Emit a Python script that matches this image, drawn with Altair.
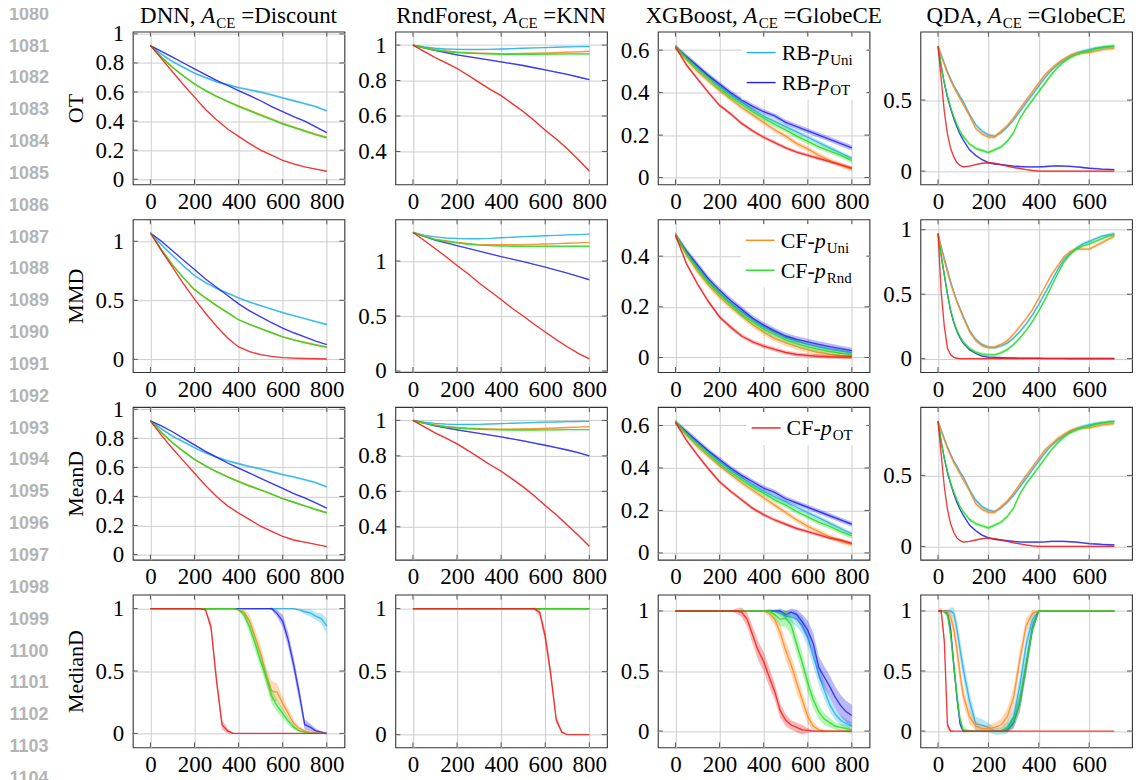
import altair as alt
import pandas as pd

# ---------------- layout / style ----------------
W, H = 212, 153
SPX, SPY = 51, 35
LN_W, SP0 = 40, 84
TL = 5
SERIF = "Liberation Serif"
FS_TICK, FS_TITLE, FS_SUB, FS_LEG = 23, 23, 15, 22
GRID_C, TICK_C, BOX_C = "#cdcdcd", "#555555", "#333333"
TITLE_Y, SUB_DY = -9, 5

# ---------------- data ----------------
X800 = list(range(0, 801, 50))
X800F = list(range(0, 801, 25))
XQDA = [0, 12.5, 25, 37.5, 50, 62.5, 75, 87.5] + list(range(100, 701, 25))

SERIES = ["rbu", "rbo", "cfu", "cfr", "cfo"]
COLORS = ["#22b0e6", "#2323ee", "#ff8a1e", "#22dd22", "#f21a1a"]
ROW_LABELS = ["OT", "MMD", "MeanD", "MedianD"]
LINE_NUMBERS = list(range(1080, 1105))

XT8 = [0, 200, 400, 600, 800]
XT7 = [0, 200, 400, 600]

# OT
ot_dnn_rbu = [0.92, 0.86, 0.81, 0.77, 0.73, 0.70, 0.67, 0.65, 0.63, 0.615, 0.60, 0.58, 0.56, 0.54, 0.52, 0.50, 0.47]
ot_dnn_rbo = [0.92, 0.88, 0.84, 0.80, 0.76, 0.72, 0.68, 0.645, 0.61, 0.575, 0.54, 0.50, 0.465, 0.43, 0.40, 0.36, 0.32]
ot_dnn_cfu = [0.92, 0.84, 0.77, 0.71, 0.655, 0.61, 0.57, 0.535, 0.505, 0.475, 0.445, 0.415, 0.385, 0.36, 0.335, 0.31, 0.29]
ot_dnn_cfr = [0.92, 0.84, 0.77, 0.71, 0.655, 0.61, 0.57, 0.535, 0.50, 0.47, 0.44, 0.41, 0.38, 0.355, 0.33, 0.305, 0.285]
ot_dnn_cfo = [0.92, 0.83, 0.74, 0.65, 0.565, 0.48, 0.41, 0.345, 0.295, 0.245, 0.20, 0.165, 0.13, 0.105, 0.085, 0.07, 0.055]

ot_rf_rbu = [1.0, 0.99, 0.982, 0.978, 0.976, 0.975, 0.975, 0.976, 0.978, 0.98, 0.982, 0.984, 0.986, 0.988, 0.99, 0.991, 0.992]
ot_rf_rbo = [1.0, 0.985, 0.97, 0.957, 0.945, 0.935, 0.925, 0.915, 0.905, 0.895, 0.885, 0.872, 0.86, 0.847, 0.835, 0.82, 0.805]
ot_rf_cfu = [1.0, 0.985, 0.975, 0.967, 0.96, 0.957, 0.955, 0.953, 0.952, 0.952, 0.953, 0.954, 0.955, 0.957, 0.96, 0.962, 0.965]
ot_rf_cfr = [1.0, 0.985, 0.972, 0.964, 0.958, 0.955, 0.952, 0.95, 0.948, 0.948, 0.948, 0.948, 0.949, 0.949, 0.95, 0.95, 0.95]
ot_rf_cfo = [1.0, 0.965, 0.93, 0.90, 0.868, 0.83, 0.79, 0.75, 0.715, 0.67, 0.625, 0.575, 0.52, 0.47, 0.415, 0.355, 0.29]

ot_xgb_rbu = [0.615, 0.565, 0.52, 0.475, 0.43, 0.39, 0.355, 0.32, 0.29, 0.265, 0.24, 0.215, 0.19, 0.165, 0.14, 0.115, 0.09]
ot_xgb_rbo = [0.615, 0.57, 0.525, 0.48, 0.44, 0.40, 0.365, 0.335, 0.31, 0.29, 0.26, 0.24, 0.22, 0.20, 0.18, 0.16, 0.14]
ot_xgb_cfu = [0.615, 0.555, 0.50, 0.455, 0.41, 0.37, 0.33, 0.295, 0.26, 0.225, 0.195, 0.16, 0.135, 0.105, 0.08, 0.06, 0.04]
ot_xgb_cfr = [0.615, 0.56, 0.51, 0.465, 0.42, 0.38, 0.345, 0.31, 0.28, 0.25, 0.225, 0.195, 0.17, 0.145, 0.125, 0.105, 0.08]
ot_xgb_cfo = [0.615, 0.53, 0.465, 0.40, 0.34, 0.30, 0.255, 0.22, 0.19, 0.165, 0.14, 0.12, 0.105, 0.09, 0.075, 0.06, 0.045]

ot_qda_rbu = [0.88, 0.82, 0.76, 0.70, 0.65, 0.60, 0.565, 0.525, 0.49, 0.40, 0.325, 0.28, 0.255, 0.245, 0.27, 0.31, 0.36,
              0.42, 0.48, 0.54, 0.60, 0.66, 0.71, 0.75, 0.78, 0.81, 0.83, 0.845, 0.855, 0.865, 0.87, 0.875, 0.88]
ot_qda_rbo = [0.88, 0.74, 0.62, 0.52, 0.44, 0.37, 0.31, 0.26, 0.22, 0.15, 0.11, 0.08, 0.06, 0.05, 0.045, 0.04, 0.035,
              0.032, 0.03, 0.03, 0.03, 0.032, 0.035, 0.036, 0.035, 0.033, 0.03, 0.025, 0.02, 0.017, 0.014, 0.012, 0.01]
ot_qda_cfu = [0.88, 0.81, 0.75, 0.69, 0.64, 0.59, 0.55, 0.51, 0.47, 0.39, 0.30, 0.26, 0.24, 0.24, 0.28, 0.32, 0.375,
              0.44, 0.50, 0.56, 0.62, 0.68, 0.72, 0.76, 0.79, 0.815, 0.83, 0.835, 0.835, 0.845, 0.855, 0.86, 0.865]
ot_qda_cfr = [0.88, 0.74, 0.62, 0.53, 0.45, 0.385, 0.33, 0.28, 0.245, 0.19, 0.16, 0.145, 0.13, 0.15, 0.17, 0.21, 0.27,
              0.37, 0.44, 0.50, 0.56, 0.62, 0.68, 0.73, 0.77, 0.80, 0.82, 0.835, 0.845, 0.86, 0.87, 0.875, 0.88]
ot_qda_cfo = [0.88, 0.65, 0.42, 0.26, 0.16, 0.10, 0.06, 0.04, 0.03, 0.035, 0.045, 0.055, 0.058, 0.055, 0.045, 0.035,
              0.025, 0.018, 0.01, 0.004, 0.0] + [0.0] * 12

# MMD
mmd_dnn_rbu = [1.07, 0.97, 0.88, 0.79, 0.71, 0.65, 0.60, 0.56, 0.52, 0.485, 0.455, 0.425, 0.395, 0.37, 0.345, 0.32, 0.295]
mmd_dnn_rbo = [1.07, 1.0, 0.92, 0.84, 0.76, 0.68, 0.61, 0.54, 0.47, 0.41, 0.36, 0.31, 0.265, 0.225, 0.19, 0.155, 0.125]
mmd_dnn_cfu = [1.07, 0.93, 0.80, 0.69, 0.59, 0.52, 0.455, 0.395, 0.335, 0.295, 0.26, 0.225, 0.19, 0.165, 0.145, 0.125, 0.105]
mmd_dnn_cfr = [1.07, 0.93, 0.80, 0.69, 0.59, 0.52, 0.455, 0.395, 0.335, 0.295, 0.26, 0.225, 0.19, 0.165, 0.14, 0.12, 0.10]
mmd_dnn_cfo = [1.07, 0.92, 0.78, 0.64, 0.51, 0.39, 0.28, 0.18, 0.105, 0.065, 0.04, 0.025, 0.015, 0.01, 0.007, 0.005, 0.003]

mmd_rf_rbu = [1.26, 1.235, 1.22, 1.21, 1.205, 1.203, 1.203, 1.206, 1.212, 1.217, 1.222, 1.226, 1.23, 1.234, 1.238, 1.241, 1.245]
mmd_rf_rbo = [1.26, 1.225, 1.19, 1.165, 1.14, 1.115, 1.09, 1.065, 1.04, 1.018, 0.995, 0.97, 0.945, 0.918, 0.89, 0.86, 0.83]
mmd_rf_cfu = [1.26, 1.23, 1.20, 1.185, 1.17, 1.16, 1.15, 1.148, 1.148, 1.148, 1.15, 1.152, 1.155, 1.158, 1.162, 1.166, 1.17]
mmd_rf_cfr = [1.26, 1.225, 1.195, 1.178, 1.165, 1.153, 1.145, 1.14, 1.137, 1.135, 1.135, 1.135, 1.135, 1.135, 1.135, 1.135, 1.135]
mmd_rf_cfo = [1.26, 1.19, 1.115, 1.04, 0.96, 0.885, 0.80, 0.725, 0.65, 0.57, 0.50, 0.425, 0.355, 0.285, 0.22, 0.16, 0.11]

mmd_xgb_rbu = [0.483, 0.415, 0.355, 0.30, 0.255, 0.215, 0.18, 0.15, 0.122, 0.10, 0.08, 0.065, 0.052, 0.042, 0.033, 0.026, 0.02]
mmd_xgb_rbo = [0.483, 0.42, 0.365, 0.31, 0.265, 0.225, 0.19, 0.155, 0.128, 0.105, 0.085, 0.072, 0.062, 0.052, 0.043, 0.035, 0.027]
mmd_xgb_cfu = [0.483, 0.405, 0.34, 0.285, 0.24, 0.20, 0.165, 0.13, 0.10, 0.075, 0.058, 0.043, 0.03, 0.02, 0.013, 0.008, 0.005]
mmd_xgb_cfr = [0.483, 0.41, 0.35, 0.295, 0.25, 0.21, 0.17, 0.14, 0.112, 0.09, 0.07, 0.055, 0.042, 0.032, 0.024, 0.017, 0.012]
mmd_xgb_cfo = [0.483, 0.37, 0.29, 0.22, 0.16, 0.12, 0.085, 0.062, 0.045, 0.032, 0.02, 0.012, 0.008, 0.005, 0.003, 0.002, 0.002]

mmd_qda_rbu = [0.97, 0.87, 0.78, 0.69, 0.60, 0.52, 0.45, 0.39, 0.33, 0.22, 0.15, 0.11, 0.09, 0.085, 0.10, 0.12, 0.16,
               0.21, 0.27, 0.34, 0.42, 0.51, 0.60, 0.69, 0.77, 0.82, 0.86, 0.89, 0.91, 0.93, 0.95, 0.96, 0.97]
mmd_qda_rbo = [0.97, 0.80, 0.65, 0.50, 0.37, 0.28, 0.21, 0.16, 0.12, 0.07, 0.04, 0.02, 0.012, 0.01, 0.008, 0.006, 0.005,
               0.004, 0.003, 0.003, 0.003, 0.002, 0.002, 0.002, 0.002, 0.001, 0.001, 0.001, 0.001, 0.001, 0.001, 0.001, 0.001]
mmd_qda_cfu = [0.97, 0.86, 0.76, 0.67, 0.58, 0.51, 0.44, 0.38, 0.32, 0.21, 0.14, 0.10, 0.085, 0.09, 0.11, 0.14, 0.19,
               0.25, 0.31, 0.38, 0.47, 0.56, 0.65, 0.72, 0.79, 0.83, 0.85, 0.85, 0.85, 0.875, 0.90, 0.925, 0.95]
mmd_qda_cfr = [0.97, 0.80, 0.65, 0.50, 0.38, 0.29, 0.22, 0.17, 0.13, 0.08, 0.05, 0.035, 0.03, 0.03, 0.045, 0.07, 0.11,
               0.16, 0.22, 0.29, 0.37, 0.46, 0.56, 0.66, 0.75, 0.81, 0.85, 0.875, 0.89, 0.91, 0.93, 0.95, 0.96]
mmd_qda_cfo = [0.97, 0.52, 0.25, 0.08, 0.03, 0.01, 0.003, 0.0, 0.0] + [0.0] * 24

# MeanD
mean_dnn_rbu = [0.92, 0.865, 0.815, 0.775, 0.735, 0.70, 0.67, 0.645, 0.625, 0.605, 0.59, 0.57, 0.55, 0.535, 0.515, 0.495, 0.465]
mean_dnn_rbo = [0.92, 0.885, 0.845, 0.80, 0.755, 0.71, 0.67, 0.63, 0.595, 0.56, 0.525, 0.49, 0.455, 0.42, 0.39, 0.355, 0.32]
mean_dnn_cfu = [0.92, 0.84, 0.77, 0.71, 0.655, 0.61, 0.57, 0.535, 0.505, 0.475, 0.445, 0.415, 0.385, 0.36, 0.335, 0.31, 0.29]
mean_dnn_cfr = [0.92, 0.84, 0.77, 0.71, 0.655, 0.61, 0.57, 0.535, 0.50, 0.47, 0.445, 0.415, 0.385, 0.36, 0.335, 0.31, 0.285]
mean_dnn_cfo = [0.92, 0.82, 0.73, 0.645, 0.56, 0.475, 0.40, 0.335, 0.285, 0.24, 0.195, 0.16, 0.125, 0.10, 0.085, 0.07, 0.055]

mean_rf_rbu = [1.0, 0.99, 0.983, 0.979, 0.977, 0.977, 0.978, 0.98, 0.982, 0.984, 0.986, 0.988, 0.99, 0.991, 0.993, 0.994, 0.995]
mean_rf_rbo = [1.0, 0.985, 0.97, 0.958, 0.947, 0.937, 0.927, 0.917, 0.907, 0.896, 0.885, 0.872, 0.86, 0.847, 0.833, 0.818, 0.80]
mean_rf_cfu = [1.0, 0.985, 0.975, 0.966, 0.96, 0.956, 0.954, 0.952, 0.951, 0.951, 0.952, 0.953, 0.955, 0.957, 0.96, 0.962, 0.965]
mean_rf_cfr = [1.0, 0.985, 0.972, 0.963, 0.957, 0.953, 0.95, 0.948, 0.947, 0.946, 0.946, 0.946, 0.947, 0.947, 0.948, 0.948, 0.948]
mean_rf_cfo = [1.0, 0.965, 0.93, 0.90, 0.868, 0.83, 0.79, 0.75, 0.713, 0.67, 0.625, 0.575, 0.52, 0.468, 0.41, 0.352, 0.29]

mean_xgb_rbu = [0.615, 0.565, 0.52, 0.475, 0.43, 0.39, 0.355, 0.32, 0.29, 0.265, 0.24, 0.215, 0.19, 0.165, 0.14, 0.115, 0.09]
mean_xgb_rbo = [0.615, 0.57, 0.525, 0.48, 0.44, 0.40, 0.365, 0.335, 0.305, 0.285, 0.255, 0.235, 0.215, 0.195, 0.175, 0.155, 0.135]
mean_xgb_cfu = [0.615, 0.555, 0.50, 0.455, 0.41, 0.37, 0.33, 0.295, 0.26, 0.225, 0.19, 0.155, 0.125, 0.10, 0.075, 0.055, 0.04]
mean_xgb_cfr = [0.615, 0.56, 0.51, 0.465, 0.42, 0.38, 0.345, 0.31, 0.28, 0.25, 0.225, 0.195, 0.17, 0.145, 0.125, 0.10, 0.08]
mean_xgb_cfo = [0.615, 0.53, 0.46, 0.395, 0.335, 0.29, 0.25, 0.21, 0.18, 0.155, 0.135, 0.115, 0.10, 0.085, 0.07, 0.06, 0.045]

mean_qda_rbu = [0.88, 0.82, 0.76, 0.70, 0.65, 0.60, 0.565, 0.525, 0.49, 0.40, 0.325, 0.28, 0.255, 0.245, 0.27, 0.31, 0.36,
                0.42, 0.48, 0.54, 0.60, 0.66, 0.71, 0.75, 0.78, 0.81, 0.83, 0.845, 0.855, 0.865, 0.87, 0.875, 0.88]
mean_qda_rbo = [0.88, 0.74, 0.62, 0.52, 0.44, 0.37, 0.31, 0.26, 0.22, 0.15, 0.11, 0.08, 0.06, 0.05, 0.045, 0.04, 0.035,
                0.032, 0.03, 0.03, 0.03, 0.032, 0.035, 0.036, 0.035, 0.033, 0.03, 0.025, 0.02, 0.017, 0.014, 0.012, 0.01]
mean_qda_cfu = [0.88, 0.81, 0.75, 0.69, 0.64, 0.59, 0.55, 0.51, 0.47, 0.39, 0.30, 0.26, 0.24, 0.24, 0.28, 0.32, 0.375,
                0.44, 0.50, 0.56, 0.62, 0.68, 0.72, 0.76, 0.79, 0.815, 0.83, 0.835, 0.835, 0.845, 0.855, 0.86, 0.865]
mean_qda_cfr = [0.88, 0.74, 0.62, 0.53, 0.45, 0.385, 0.33, 0.28, 0.245, 0.19, 0.16, 0.145, 0.13, 0.15, 0.17, 0.21, 0.27,
                0.37, 0.44, 0.50, 0.56, 0.62, 0.68, 0.73, 0.77, 0.80, 0.82, 0.835, 0.845, 0.86, 0.87, 0.875, 0.88]
mean_qda_cfo = [0.88, 0.65, 0.42, 0.26, 0.16, 0.10, 0.06, 0.04, 0.03, 0.035, 0.045, 0.055, 0.058, 0.055, 0.045, 0.035,
                0.025, 0.018, 0.01, 0.004, 0.0] + [0.0] * 12

# MedianD
med_dnn_rbu = [1] * 27 + [0.99, 0.975, 0.965, 0.94, 0.92, 0.86]
med_dnn_rbo = [1] * 23 + [0.96, 0.90, 0.75, 0.55, 0.32, 0.07, 0.05, 0.02, 0.01, 0.0]
med_dnn_cfu = [1] * 16 + [0.99, 0.97, 0.90, 0.77, 0.64, 0.47, 0.34, 0.33, 0.24, 0.16, 0.08, 0.04, 0.02, 0.01, 0, 0, 0]
med_dnn_cfr = [1] * 16 + [0.99, 0.95, 0.85, 0.72, 0.58, 0.45, 0.30, 0.22, 0.16, 0.10, 0.05, 0.02, 0.01, 0, 0, 0, 0]
med_dnn_cfo = [1] * 10 + [0.99, 0.85, 0.42, 0.07, 0.02] + [0] * 18

med_rf_rbu = [1] * 33
med_rf_rbo = [1] * 33
med_rf_cfu = [1] * 33
med_rf_cfr = [1] * 33
med_rf_cfo = [1] * 23 + [0.97, 0.78, 0.48, 0.12, 0.02, 0, 0, 0, 0, 0]

med_xgb_rbu = [1] * 19 + [0.98, 0.96, 0.95, 0.93, 0.88, 0.78, 0.62, 0.47, 0.34, 0.22, 0.14, 0.09, 0.06, 0.04]
med_xgb_rbo = [1] * 19 + [1.0, 0.97, 0.99, 0.97, 0.91, 0.84, 0.73, 0.53, 0.45, 0.37, 0.28, 0.21, 0.16, 0.13]
med_xgb_cfu = [1] * 17 + [0.98, 0.93, 0.82, 0.67, 0.55, 0.40, 0.26, 0.12, 0.04, 0.01, 0, 0, 0, 0, 0, 0]
med_xgb_cfr = [1] * 18 + [0.97, 0.93, 0.94, 0.88, 0.72, 0.57, 0.40, 0.26, 0.16, 0.10, 0.07, 0.04, 0.03, 0.02, 0.01]
med_xgb_cfo = [1] * 11 + [1.0, 0.99, 0.93, 0.80, 0.67, 0.58, 0.45, 0.33, 0.17, 0.09, 0.05, 0.03, 0.01, 0.005,
                          0, 0, 0, 0, 0, 0, 0, 0]

med_qda_rbu = [1, 1, 1, 1, 1, 0.98, 0.85, 0.68, 0.52, 0.25, 0.06, 0.05, 0.03, 0.0, 0.0,
               0.03, 0.12, 0.38, 0.72, 0.93, 1.0] + [1] * 12
med_qda_rbo = [1, 1, 1, 0.98, 0.85, 0.55, 0.28, 0.06, 0.0, 0, 0, 0, 0, 0, 0,
               0.01, 0.07, 0.24, 0.55, 0.86, 1.0] + [1] * 12
med_qda_cfu = [1, 1, 1, 0.99, 0.95, 0.85, 0.68, 0.47, 0.30, 0.12, 0.04, 0.02, 0.02, 0.03, 0.05,
               0.12, 0.28, 0.60, 0.88, 0.98, 1.0] + [1] * 12
med_qda_cfr = [1, 1, 0.99, 0.97, 0.80, 0.55, 0.30, 0.10, 0.01, 0, 0, 0, 0, 0, 0,
               0.02, 0.08, 0.25, 0.55, 0.85, 1.0] + [1] * 12
med_qda_cfo = [1, 1, 0.75, 0.05] + [0] * 29

# band half-widths (std), rows 1-3: one value per series (cyan, blue, orange, green, red)
SD_DNN = [0.008, 0.004, 0.005, 0.005, 0.003]
SD_RF = [0.003, 0.004, 0.004, 0.004, 0.004]
SD_XGB = [0.01, 0.012, 0.012, 0.012, 0.008]
SD_QDA = [0.012, 0.006, 0.012, 0.012, 0.004]

# row 4 bands
sd_med_dnn_rbu = [0] * 26 + [0.005, 0.01, 0.02, 0.03, 0.03, 0.04, 0.06]
sd_med_dnn_rbo = [0] * 22 + [0.01, 0.03, 0.05, 0.06, 0.06, 0.06, 0.04, 0.03, 0.02, 0.01, 0.01]
sd_med_dnn_cfu = [0] * 16 + [0.01, 0.03, 0.05, 0.06, 0.07, 0.07, 0.08, 0.07, 0.05, 0.04, 0.03, 0.02, 0.01, 0, 0, 0, 0]
sd_med_dnn_cfr = [0] * 16 + [0.01, 0.03, 0.05, 0.06, 0.06, 0.06, 0.06, 0.05, 0.04, 0.03, 0.02, 0.01, 0.005, 0, 0, 0, 0]
sd_med_dnn_cfo = [0] * 10 + [0.01, 0.04, 0.05, 0.04, 0.02, 0.005] + [0] * 17

sd_med_rf_cfo = [0] * 22 + [0.01, 0.03, 0.05, 0.05, 0.03, 0.01, 0, 0, 0, 0, 0]

sd_med_xgb_rbu = [0] * 18 + [0.01, 0.02, 0.04, 0.05, 0.06, 0.07, 0.08, 0.08, 0.08, 0.07, 0.06, 0.05, 0.04, 0.04, 0.03]
sd_med_xgb_rbo = [0] * 18 + [0.01, 0.02, 0.03, 0.03, 0.04, 0.06, 0.08, 0.09, 0.09, 0.09, 0.09, 0.09, 0.09, 0.09, 0.09]
sd_med_xgb_cfu = [0] * 16 + [0.01, 0.03, 0.05, 0.07, 0.08, 0.08, 0.08, 0.07, 0.06, 0.04, 0.02, 0.01, 0.005, 0, 0, 0, 0]
sd_med_xgb_cfr = [0] * 17 + [0.02, 0.04, 0.06, 0.07, 0.08, 0.08, 0.08, 0.08, 0.07, 0.06, 0.05, 0.04, 0.03, 0.03, 0.03, 0.035]
sd_med_xgb_cfo = [0] * 11 + [0.02, 0.04, 0.06, 0.07, 0.08, 0.08, 0.08, 0.07, 0.06, 0.05, 0.04, 0.04, 0.04, 0.02, 0.005] + [0] * 7

sd_med_qda_rbu = [0, 0, 0, 0.01, 0.03, 0.05, 0.08, 0.09, 0.09, 0.08, 0.06, 0.05, 0.04, 0.03, 0.03,
                  0.05, 0.07, 0.09, 0.08, 0.05, 0.01] + [0] * 12
sd_med_qda_rbo = [0, 0, 0.01, 0.03, 0.06, 0.06, 0.05, 0.03, 0.01, 0, 0, 0, 0, 0, 0,
                  0.02, 0.05, 0.08, 0.08, 0.05, 0.01] + [0] * 12
sd_med_qda_cfu = [0, 0, 0.01, 0.02, 0.05, 0.07, 0.08, 0.08, 0.07, 0.06, 0.04, 0.03, 0.03, 0.04, 0.05,
                  0.07, 0.08, 0.08, 0.06, 0.03, 0.01] + [0] * 12
sd_med_qda_cfr = [0, 0, 0.01, 0.03, 0.06, 0.07, 0.06, 0.04, 0.02, 0.01, 0, 0, 0, 0, 0.01,
                  0.03, 0.05, 0.08, 0.08, 0.05, 0.01] + [0] * 12
sd_med_qda_cfo = [0, 0.03, 0.05, 0.04, 0.01] + [0] * 28

TITLES = [
    [("DNN, ", "n"), ("A", "i"), ("CE", "s"), (" =Discount", "n")],
    [("RndForest, ", "n"), ("A", "i"), ("CE", "s"), (" =KNN", "n")],
    [("XGBoost, ", "n"), ("A", "i"), ("CE", "s"), (" =GlobeCE", "n")],
    [("QDA, ", "n"), ("A", "i"), ("CE", "s"), (" =GlobeCE", "n")],
]
LEGENDS = {
    (0, 2): ([("RB-", "Uni", 0), ("RB-", "OT", 1)], 89),
    (1, 2): ([("CF-", "Uni", 2), ("CF-", "Rnd", 3)], 88),
    (2, 2): ([("CF-", "OT", 4)], 94),
}

PANELS = [
    [(X800, [ot_dnn_rbu, ot_dnn_rbo, ot_dnn_cfu, ot_dnn_cfr, ot_dnn_cfo], SD_DNN, XT8, [0, 0.2, 0.4, 0.6, 0.8, 1]),
     (X800, [ot_rf_rbu, ot_rf_rbo, ot_rf_cfu, ot_rf_cfr, ot_rf_cfo], SD_RF, XT8, [0.4, 0.6, 0.8, 1]),
     (X800, [ot_xgb_rbu, ot_xgb_rbo, ot_xgb_cfu, ot_xgb_cfr, ot_xgb_cfo], SD_XGB, XT8, [0, 0.2, 0.4, 0.6]),
     (XQDA, [ot_qda_rbu, ot_qda_rbo, ot_qda_cfu, ot_qda_cfr, ot_qda_cfo], SD_QDA, XT7, [0, 0.5])],
    [(X800, [mmd_dnn_rbu, mmd_dnn_rbo, mmd_dnn_cfu, mmd_dnn_cfr, mmd_dnn_cfo], SD_DNN, XT8, [0, 0.5, 1]),
     (X800, [mmd_rf_rbu, mmd_rf_rbo, mmd_rf_cfu, mmd_rf_cfr, mmd_rf_cfo], SD_RF, XT8, [0, 0.5, 1]),
     (X800, [mmd_xgb_rbu, mmd_xgb_rbo, mmd_xgb_cfu, mmd_xgb_cfr, mmd_xgb_cfo], SD_XGB, XT8, [0, 0.2, 0.4]),
     (XQDA, [mmd_qda_rbu, mmd_qda_rbo, mmd_qda_cfu, mmd_qda_cfr, mmd_qda_cfo], SD_QDA, XT7, [0, 0.5, 1])],
    [(X800, [mean_dnn_rbu, mean_dnn_rbo, mean_dnn_cfu, mean_dnn_cfr, mean_dnn_cfo], SD_DNN, XT8, [0, 0.2, 0.4, 0.6, 0.8, 1]),
     (X800, [mean_rf_rbu, mean_rf_rbo, mean_rf_cfu, mean_rf_cfr, mean_rf_cfo], SD_RF, XT8, [0.4, 0.6, 0.8, 1]),
     (X800, [mean_xgb_rbu, mean_xgb_rbo, mean_xgb_cfu, mean_xgb_cfr, mean_xgb_cfo], SD_XGB, XT8, [0, 0.2, 0.4, 0.6]),
     (XQDA, [mean_qda_rbu, mean_qda_rbo, mean_qda_cfu, mean_qda_cfr, mean_qda_cfo], SD_QDA, XT7, [0, 0.5])],
    [(X800F, [med_dnn_rbu, med_dnn_rbo, med_dnn_cfu, med_dnn_cfr, med_dnn_cfo],
      [sd_med_dnn_rbu, sd_med_dnn_rbo, sd_med_dnn_cfu, sd_med_dnn_cfr, sd_med_dnn_cfo], XT8, [0, 0.5, 1]),
     (X800F, [med_rf_rbu, med_rf_rbo, med_rf_cfu, med_rf_cfr, med_rf_cfo], [0, 0, 0, 0, sd_med_rf_cfo], XT8, [0, 0.5, 1]),
     (X800F, [med_xgb_rbu, med_xgb_rbo, med_xgb_cfu, med_xgb_cfr, med_xgb_cfo],
      [sd_med_xgb_rbu, sd_med_xgb_rbo, sd_med_xgb_cfu, sd_med_xgb_cfr, sd_med_xgb_cfo], XT8, [0, 0.5, 1]),
     (XQDA, [med_qda_rbu, med_qda_rbo, med_qda_cfu, med_qda_cfr, med_qda_cfo],
      [sd_med_qda_rbu, sd_med_qda_rbo, sd_med_qda_cfu, sd_med_qda_cfr, sd_med_qda_cfo], XT7, [0, 0.5, 1])],
]

# ---------------- helpers ----------------
TIMES = {" ": 250, ",": 250, "-": 333, "=": 564, "A": 722, "B": 667, "C": 667, "D": 722, "E": 611, "F": 556,
         "G": 722, "K": 722, "N": 722, "O": 722, "Q": 722, "R": 667, "T": 611, "U": 722, "X": 722, "a": 444,
         "b": 500, "c": 444, "d": 500, "e": 444, "i": 278, "l": 278, "n": 500, "o": 500, "r": 333, "s": 389,
         "t": 278, "u": 500, "p": 500}
TIMES_I = {"A": 611, "p": 500}


def tw(s, size, italic=False):
    tab = TIMES_I if italic else TIMES
    return sum(tab.get(ch, TIMES.get(ch, 500)) for ch in s) / 1000.0 * size + (1 if italic else 0)


ONE = pd.DataFrame({"k": [0]})


def txt(t, x, y, size, italic=False):
    return alt.Chart(ONE).mark_text(
        font=SERIF, fontSize=size, fontStyle="italic" if italic else "normal",
        align="left", baseline="alphabetic", color="black"
    ).encode(x=alt.value(x), y=alt.value(y), text=alt.value(t))


def title_layers(segs):
    size = {"n": FS_TITLE, "i": FS_TITLE, "s": FS_SUB}
    total = sum(tw(t, size[k], k == "i") for t, k in segs)
    x = W / 2 - total / 2
    out = []
    for t, k in segs:
        lead = len(t) - len(t.lstrip(" "))
        xx = x + tw(" " * lead, size[k])
        yy = TITLE_Y + (SUB_DY if k == "s" else 0)
        out.append(txt(t.strip(" "), xx, yy, size[k], k == "i"))
        x += tw(t, size[k], k == "i")
    return out


def legend_layers(items, x0):
    n = len(items)
    out = [alt.Chart(ONE).mark_rect(color="white").encode(
        x=alt.value(x0 - 5), x2=alt.value(W - 3), y=alt.value(5), y2=alt.value(21 + 30 * (n - 1) + 17))]
    for i, (pre, sub, si) in enumerate(items):
        yc = 21 + 30 * i
        out.append(alt.Chart(ONE).mark_rule(color=COLORS[si], strokeWidth=1.4).encode(
            x=alt.value(x0), x2=alt.value(x0 + 29), y=alt.value(yc)))
        tx = x0 + 35
        out.append(txt(pre, tx, yc + 7.5, FS_LEG))
        tx += tw(pre, FS_LEG)
        out.append(txt("p", tx, yc + 7.5, FS_LEG, True))
        tx += tw("p", FS_LEG, True)
        out.append(txt(sub, tx, yc + 7.5 + SUB_DY, FS_SUB))
    return out


def make_panel(r, c):
    xs, ylists, sds, xticks, yticks = PANELS[r][c]
    recs = []
    for key, ys, sd in zip(SERIES, ylists, sds):
        assert len(ys) == len(xs), (r, c, key, len(ys), len(xs))
        if isinstance(sd, list):
            assert len(sd) == len(xs), (r, c, key, "sd", len(sd))
        for i, x in enumerate(xs):
            s = sd[i] if isinstance(sd, list) else sd
            recs.append({"x": x, "y": ys[i], "lo": ys[i] - s, "hi": ys[i] + s, "s": key})
    df = pd.DataFrame(recs)
    lo, hi = float(df["lo"].min()), float(df["hi"].max())
    rr = hi - lo
    ysc = alt.Scale(domain=[lo - 0.1 * rr, hi + 0.1 * rr], nice=False, zero=False)
    xr = max(xs) - min(xs)
    xsc = alt.Scale(domain=[min(xs) - 0.1 * xr, max(xs) + 0.1 * xr], nice=False, zero=False)

    common = dict(grid=True, gridColor=GRID_C, gridWidth=1, domain=False, ticks=False, tickSize=0,
                  labelFont=SERIF, labelFontSize=FS_TICK, labelColor="black", labelFlush=False,
                  labelOverlap=False, format=".6~g")
    xaxis = alt.Axis(values=xticks, labelPadding=6, title="", **common)
    yaxis = alt.Axis(values=yticks, labelPadding=9, title=ROW_LABELS[r] if c == 0 else "",
                     titleFont=SERIF, titleFontSize=22, titleFontWeight="normal", titleColor="black",
                     titleAngle=270, titleX=-57, titleY=H / 2, titleAlign="center", titleBaseline="middle",
                     **common)

    def X(f):
        return alt.X(f, scale=xsc, axis=xaxis)

    def Y(f):
        return alt.Y(f, scale=ysc, axis=yaxis)

    layers = []
    for key, col in zip(SERIES, COLORS):
        sub = df[df["s"] == key]
        if float((sub["hi"] - sub["lo"]).max()) > 1e-9:
            layers.append(alt.Chart(sub).mark_area(color=col, opacity=0.32).encode(
                x=X("x:Q"), y=Y("lo:Q"), y2="hi:Q"))
        layers.append(alt.Chart(sub).mark_line(color=col, strokeWidth=1.35, opacity=0.85).encode(
            x=X("x:Q"), y=Y("y:Q")))
    tdy = pd.DataFrame({"v": yticks})
    tdx = pd.DataFrame({"v": xticks})
    rule = dict(color=TICK_C, strokeWidth=1)
    layers += [
        alt.Chart(tdy).mark_rule(**rule).encode(y=Y("v:Q"), x=alt.value(0), x2=alt.value(TL)),
        alt.Chart(tdy).mark_rule(**rule).encode(y=Y("v:Q"), x=alt.value(W - TL), x2=alt.value(W)),
        alt.Chart(tdx).mark_rule(**rule).encode(x=X("v:Q"), y=alt.value(H - TL), y2=alt.value(H)),
        alt.Chart(tdx).mark_rule(**rule).encode(x=X("v:Q"), y=alt.value(0), y2=alt.value(TL)),
    ]
    if (r, c) in LEGENDS:
        items, x0 = LEGENDS[(r, c)]
        layers += legend_layers(items, x0)
    if r == 0:
        layers += title_layers(TITLES[c])
    return alt.layer(*layers).properties(width=W, height=H)


panels = [make_panel(r, c) for r in range(4) for c in range(4)]
grid = alt.concat(*panels, columns=4, spacing=alt.RowColnumber(row=SPY, column=SPX),
                  bounds="flush").resolve_scale(x="independent", y="independent")

GRID_H = 4 * H + 3 * SPY
LN_FIRST_Y, LN_STEP = -17.0, 31.9
ln_df = pd.DataFrame({"n": LINE_NUMBERS, "lab": [str(n) for n in LINE_NUMBERS]})
d0 = LINE_NUMBERS[0] + (0 - LN_FIRST_Y) / LN_STEP
d1 = LINE_NUMBERS[0] + (GRID_H - LN_FIRST_Y) / LN_STEP
lineno = alt.Chart(ln_df).mark_text(
    font="Liberation Sans", fontWeight="bold", fontSize=18, color="#b4b4b4", baseline="middle"
).encode(
    y=alt.Y("n:Q", scale=alt.Scale(domain=[d0, d1], reverse=True, nice=False, zero=False), axis=None),
    text="lab:N",
).properties(width=LN_W, height=GRID_H, view=alt.ViewBackground(strokeOpacity=0))

chart = alt.hconcat(lineno, grid, spacing=SP0, bounds="flush").properties(
    padding={"left": 0, "top": -5, "right": 0, "bottom": 0}
).configure_view(stroke=BOX_C, strokeWidth=1.1)

chart.save("out.html", embed_options={"renderer": "svg", "actions": False})
